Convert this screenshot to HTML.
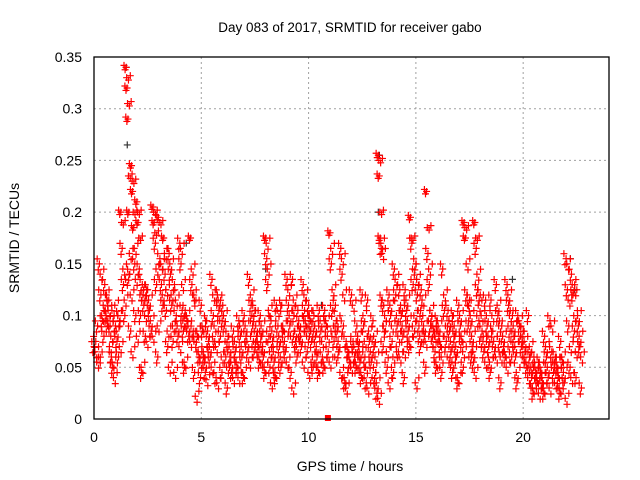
<!DOCTYPE html>
<html><head><meta charset="utf-8"><style>
body{margin:0;background:#fff;}
svg{display:block;font-family:"Liberation Sans",sans-serif;}
</style></head><body>
<svg id="chart" width="640" height="480">
<rect width="640" height="480" fill="#fff"/>
<text x="350" y="32" font-size="13.5" text-anchor="middle">Day 083 of 2017, SRMTID for receiver gabo</text>
<text x="350" y="471" font-size="14" text-anchor="middle">GPS time / hours</text>
<text transform="translate(19,238) rotate(-90)" font-size="14" text-anchor="middle">SRMTID / TECUs</text>
<g id="grid"></g>
<g id="ticks"></g>
<g id="black"></g>
<g id="red"></g>
<rect x="94" y="57" width="515" height="362" fill="none" stroke="#000" stroke-width="1.3"/>
</svg>
<script>
const xTicks=[0,5,10,15,20];
const yTicks=[0,0.05,0.1,0.15,0.2,0.25,0.3,0.35];
const yTickLabels=["0","0.05","0.1","0.15","0.2","0.25","0.3","0.35"];
const binTimes=[0,0.25,0.5,0.75,1,1.25,1.5,1.75,2,2.25,2.5,2.75,3,3.25,3.5,3.75,4,4.25,4.5,4.75,5,5.25,5.5,5.75,6,6.25,6.5,6.75,7,7.25,7.5,7.75,8,8.25,8.5,8.75,9,9.25,9.5,9.75,10,10.25,10.5,10.75,11,11.25,11.5,11.75,12,12.25,12.5,12.75,13,13.25,13.5,13.75,14,14.25,14.5,14.75,15,15.25,15.5,15.75,16,16.25,16.5,16.75,17,17.25,17.5,17.75,18,18.25,18.5,18.75,19,19.25,19.5,19.75,20,20.25,20.5,20.75,21,21.25,21.5,21.75,22,22.25,22.5];
const binValues=[
[.07,.065,.075,.055,.09,.06],[.15,.14,.12,.1,.095,.11,.08],[.13,.12,.1,.095,.09,.105,.115,.07],[.09,.08,.06,.055,.05,.04,.1,.11],
[.09,.085,.075,.1,.06,.07,.095],[.2,.19,.165,.145,.13,.115,.1,.135],[.34,.33,.32,.305,.29,.235,.2,.16,.14,.12,.085,.065],[.245,.23,.22,.2,.185,.165,.15,.135,.1,.08],
[.21,.2,.19,.175,.145,.12,.1,.05,.045],[.13,.12,.11,.1,.08,.075,.125],[.125,.115,.105,.095,.085,.08],[.205,.2,.19,.18,.17,.145,.13,.09,.06],
[.195,.19,.155,.15,.13,.12,.11],[.175,.16,.14,.125,.105,.085,.07,.05],[.16,.15,.14,.12,.11,.09,.075,.045],[.13,.115,.1,.09,.08,.07],
[.17,.165,.15,.13,.105,.095,.085,.055,.05],[.105,.1,.095,.09,.08,.075],[.175,.145,.13,.12,.085,.075,.045,.022],[.115,.085,.08,.065,.06,.055,.04],
[.11,.09,.085,.065,.06,.055,.045,.038],[.095,.085,.075,.07,.06,.05],[.135,.12,.1,.09,.075,.07,.04,.035],[.12,.115,.105,.095,.08,.06,.045],
[.11,.1,.09,.075,.06,.05,.03],[.08,.07,.06,.055,.045,.04],[.085,.075,.065,.055,.05,.04],[.095,.09,.08,.07,.06,.045,.04],
[.1,.09,.08,.075,.065,.055],[.135,.12,.11,.1,.09,.075,.065],[.105,.09,.08,.075,.07,.06,.055],[.1,.09,.08,.07,.06,.05,.045],
[.175,.17,.155,.145,.13,.105,.08,.065,.05,.035],[.095,.085,.075,.065,.055,.045,.04],[.11,.105,.09,.08,.07,.06,.05],[.11,.09,.085,.075,.065,.055],
[.135,.125,.11,.1,.09,.08,.045,.03],[.135,.115,.1,.085,.075,.07,.06],[.105,.095,.085,.08,.07,.055],[.13,.12,.105,.095,.09,.08,.065,.045],
[.11,.1,.095,.085,.075,.06,.05],[.1,.09,.08,.07,.06,.05,.045],[.105,.095,.085,.075,.06,.055,.05],[.105,.095,.09,.08,.065,.055],
[.18,.165,.15,.125,.105,.09,.075,.06],[.11,.095,.085,.075,.065,.045],[.165,.155,.14,.12,.09,.04,.035,.03],[.075,.07,.065,.06,.055,.05],
[.12,.11,.075,.07,.06,.055,.05],[.09,.08,.07,.065,.055,.045,.04],[.12,.1,.09,.075,.06,.05,.035,.03],[.115,.085,.075,.065,.055,.04],
[.095,.08,.07,.06,.045,.035,.025,.02],[.255,.25,.235,.2,.175,.17,.165,.16,.115,.09,.07],[.11,.1,.085,.065,.05,.035],[.12,.11,.1,.09,.075,.06,.045],
[.145,.135,.12,.1,.09,.08,.065,.06],[.125,.11,.1,.09,.08,.065,.04],[.125,.115,.105,.095,.085,.075,.07],[.195,.175,.17,.145,.13,.1,.085,.035],
[.15,.135,.12,.105,.09,.08,.07],[.125,.115,.1,.09,.08,.075,.05],[.22,.185,.16,.145,.13,.105,.09,.075],[.1,.09,.085,.08,.065,.055,.05],
[.095,.09,.08,.075,.07,.06,.045],[.145,.12,.105,.09,.075,.06],[.105,.095,.085,.075,.065,.055,.045],[.1,.09,.08,.07,.06,.04,.035],
[.11,.1,.09,.08,.075,.065,.05],[.19,.185,.175,.15,.12,.11,.09,.06],[.115,.1,.09,.08,.07,.065,.055,.045],[.19,.175,.165,.14,.125,.11,.095,.075],
[.12,.1,.085,.075,.065,.055],[.115,.1,.09,.08,.07,.055,.045],[.115,.1,.085,.075,.065,.06],[.13,.11,.1,.09,.075,.06,.035],
[.09,.08,.07,.065,.06,.05],[.13,.12,.11,.1,.085,.075,.06],[.1,.09,.08,.07,.06,.045,.035],[.1,.095,.09,.08,.07,.06],
[.085,.075,.065,.055,.05,.04],[.1,.07,.06,.05,.04,.03,.025],[.06,.05,.045,.04,.035,.025],[.055,.05,.045,.04,.035,.03,.025],
[.08,.07,.06,.05,.04,.03],[.095,.09,.065,.055,.045,.035],[.06,.055,.05,.045,.04,.03,.025],[.075,.06,.055,.045,.035,.02],
[.155,.15,.125,.115,.09,.07,.05,.04],[.14,.13,.12,.1,.085,.065,.04],[.125,.1,.09,.08,.07,.06,.03]
];
const blackTimes=[1.5,1.55,4.3,8.0,10.6,13.25,13.3,22.2,22.4,19.5];
const blackValues=[0.34,0.265,0.17,0.145,0.11,0.2,0.255,0.155,0.125,0.135];
const markerTime=[10.9];
const markerValue=[0];

const X0=94,X1=609,Y0=419,Y1=57,XMAX=24,YMAX=0.35;
const sx=t=>X0+(X1-X0)*t/XMAX;
const sy=v=>Y0-(Y0-Y1)*v/YMAX;
const NS="http://www.w3.org/2000/svg";
function mk(tag,attrs,parent){const e=document.createElementNS(NS,tag);for(const k in attrs)e.setAttribute(k,attrs[k]);parent.appendChild(e);return e;}
const grid=document.getElementById('grid'),ticks=document.getElementById('ticks');
xTicks.forEach(t=>{
  const x=sx(t);
  if(t>0){const g=mk('line',{x1:x,x2:x,y1:Y1,y2:Y0,stroke:'#a0a0a0','stroke-dasharray':'2,3'},grid);
  
  }
  const l=mk('text',{x:x,y:442,'font-size':14,'text-anchor':'middle'},ticks);
  l.textContent=t;
  
  
});
yTicks.forEach((v,i)=>{
  const y=sy(v);
  if(v>0&&v<YMAX){const g=mk('line',{x1:X0,x2:X1,y1:y,y2:y,stroke:'#a0a0a0','stroke-dasharray':'2,3'},grid);
  
  }
  const l=mk('text',{x:82,y:y+5,'font-size':14,'text-anchor':'end'},ticks);
  l.textContent=yTickLabels[i];
  
  
});
function plus(x,y,color,parent){
  return mk('path',{d:`M${x-3.5},${y}h7M${x},${y-3.5}v7`,stroke:color,'stroke-width':1.2,fill:'none'},parent);
}
const black=document.getElementById('black'),red=document.getElementById('red');
blackTimes.forEach((t,i)=>{
  const p=plus(sx(t),sy(blackValues[i]),'#333',black);
  
  
});
// each measurement drawn as a small cluster of samples within its bin
const copyDx=[0,0.085,0.17];
const copyDy=[0,6,-5];
binTimes.forEach((t,i)=>{
  const vals=binValues[i];
  vals.forEach((v,j)=>{
    copyDx.forEach((dx,k)=>{
      const tt=t+0.25*j/vals.length+dx*((j%2)?1:-0.6);
      const yy=sy(v)+(v>0.17&&k>0?copyDy[k]*0.4:copyDy[k]);
      const p=plus(sx(tt),yy,'#ff0000',red);
      
      
    });
  });
});
markerTime.forEach((t,i)=>{
  const r=mk('rect',{x:sx(t)-3,y:sy(markerValue[i])-4,width:6,height:6,fill:'#ff0000'},red);
  
  
});
</script>
</body></html>
